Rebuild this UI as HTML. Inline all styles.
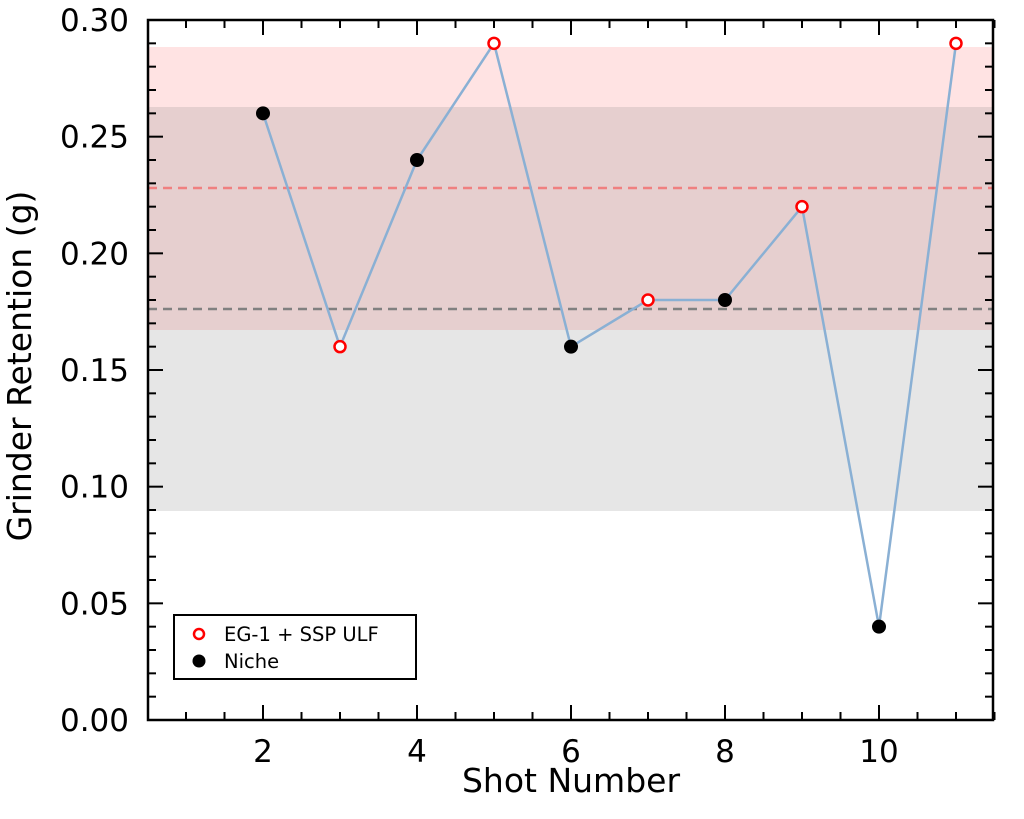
<!DOCTYPE html>
<html><head><meta charset="utf-8"><style>body{margin:0;background:#fff}svg{display:block}text{font-family:"DejaVu Sans","Liberation Sans",sans-serif;fill:#000}</style></head>
<body>
<svg id="s" width="1024" height="819" xmlns="http://www.w3.org/2000/svg">
<rect x="148" y="47" width="845" height="283" fill="#ff0000" fill-opacity="0.11"/>
<rect x="148" y="107" width="845" height="404" fill="#808080" fill-opacity="0.2"/>
<line x1="148" y1="188" x2="993" y2="188" stroke="#f08080" stroke-width="2.5" stroke-dasharray="9,6"/>
<line x1="148" y1="309" x2="993" y2="309" stroke="#808080" stroke-width="2.5" stroke-dasharray="9,6"/>
<g id="ticks" stroke="#000"></g>
<polyline id="ln" fill="none" stroke="#8ab0d4" stroke-width="2.5"/>
<g id="pts"></g>
<rect x="148" y="20" width="845" height="700" fill="none" stroke="#000" stroke-width="2.5"/>
<g id="lbl" font-size="31"></g>
<text x="571" y="792" font-size="33" text-anchor="middle">Shot Number</text>
<text transform="translate(31,366) rotate(-90)" font-size="33" text-anchor="middle">Grinder Retention (g)</text>
<rect x="174" y="615" width="242" height="64" fill="#fff" stroke="#000" stroke-width="2"/>
<circle cx="199" cy="634" r="5" fill="#fff" stroke="#f00" stroke-width="2.5"/>
<circle cx="199" cy="661" r="6.5" fill="#000"/>
<text x="224" y="641" font-size="19.5">EG-1 + SSP ULF</text>
<text x="224" y="668" font-size="19.5">Niche</text>
</svg>
<script>
var X=v=>186+(v-1)*77,Y=v=>720-v*2333.33,t=document.getElementById('ticks'),l=document.getElementById('lbl'),h='',g='';
for(var i=0;i<=30;i++){var y=Y(i/100),L=i%5?8:15;h+=`<line x1="148" x2="${148+L}" y1="${y}" y2="${y}" stroke-width="2"/><line x1="993" x2="${993-L}" y1="${y}" y2="${y}" stroke-width="2"/>`;if(i%5==0)g+=`<text x="129" y="${y+11}" text-anchor="end">${(i/100).toFixed(2)}</text>`;}
for(var v=1;v<=11.5;v+=0.5){var x=X(v),L=(v%2==0)?15:8;h+=`<line x1="${x}" x2="${x}" y1="720" y2="${720-L}" stroke-width="2"/><line x1="${x}" x2="${x}" y1="20" y2="${20+L}" stroke-width="2"/>`;if(v%2==0)g+=`<text x="${x}" y="762" text-anchor="middle">${v}</text>`;}
t.innerHTML=h;l.innerHTML=g;
var d=[[2,.26,0],[3,.16,1],[4,.24,0],[5,.29,1],[6,.16,0],[7,.18,1],[8,.18,0],[9,.22,1],[10,.04,0],[11,.29,1]],p='',c='';
d.forEach(a=>{p+=X(a[0])+','+Y(a[1])+' ';c+=a[2]?`<circle cx="${X(a[0])}" cy="${Y(a[1])}" r="5.5" fill="#fff" stroke="#f00" stroke-width="2.5"/>`:`<circle cx="${X(a[0])}" cy="${Y(a[1])}" r="7" fill="#000"/>`});
document.getElementById('ln').setAttribute('points',p);document.getElementById('pts').innerHTML=c;
</script>
</body></html>
